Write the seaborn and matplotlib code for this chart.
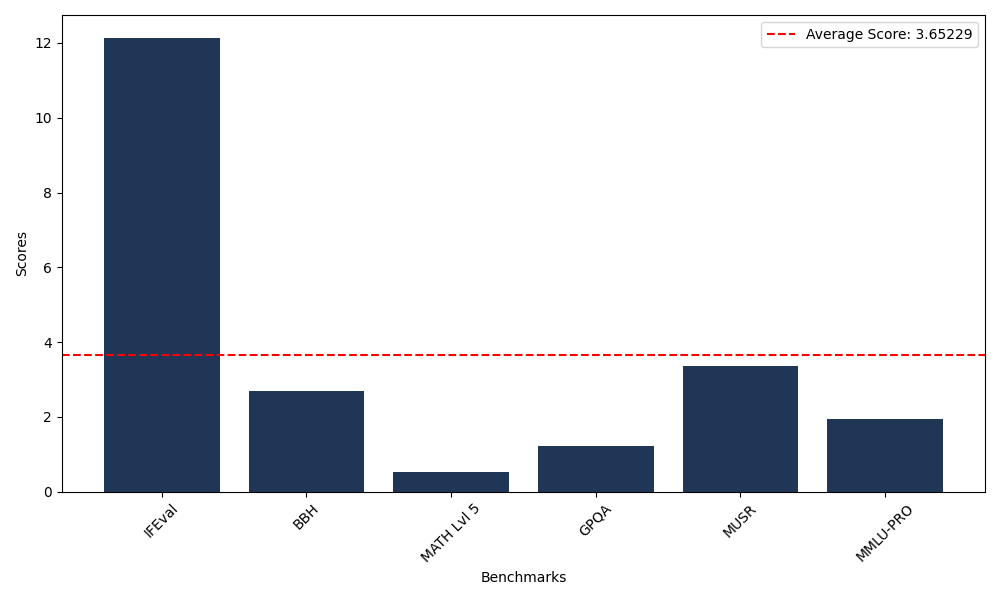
import matplotlib
matplotlib.use("Agg")
import matplotlib.pyplot as plt
import seaborn as sns
import pandas as pd

benchmarks = ["IFEval", "BBH", "MATH Lvl 5", "GPQA", "MUSR", "MMLU-PRO"]
scores = [12.14, 2.70, 0.53, 1.23, 3.37, 1.95]
average_score = 3.65229

df = pd.DataFrame({"Benchmarks": benchmarks, "Scores": scores})

fig, ax = plt.subplots(figsize=(10, 6), dpi=100)
sns.barplot(data=df, x="Benchmarks", y="Scores", color="#1F3656",
            saturation=1, width=0.8, linewidth=0, ax=ax)
ax.axhline(average_score, color="red", linestyle="--",
           label=f"Average Score: {average_score}")
n = len(benchmarks)
pad = 0.05 * (n - 1 + 0.8)
ax.set_xlim(-0.4 - pad, n - 1 + 0.4 + pad)
ax.set_xlabel("Benchmarks")
ax.set_ylabel("Scores")
ax.tick_params(axis="x", rotation=45)
ax.legend(loc="upper right")
fig.tight_layout()
fig.savefig("out.png")
